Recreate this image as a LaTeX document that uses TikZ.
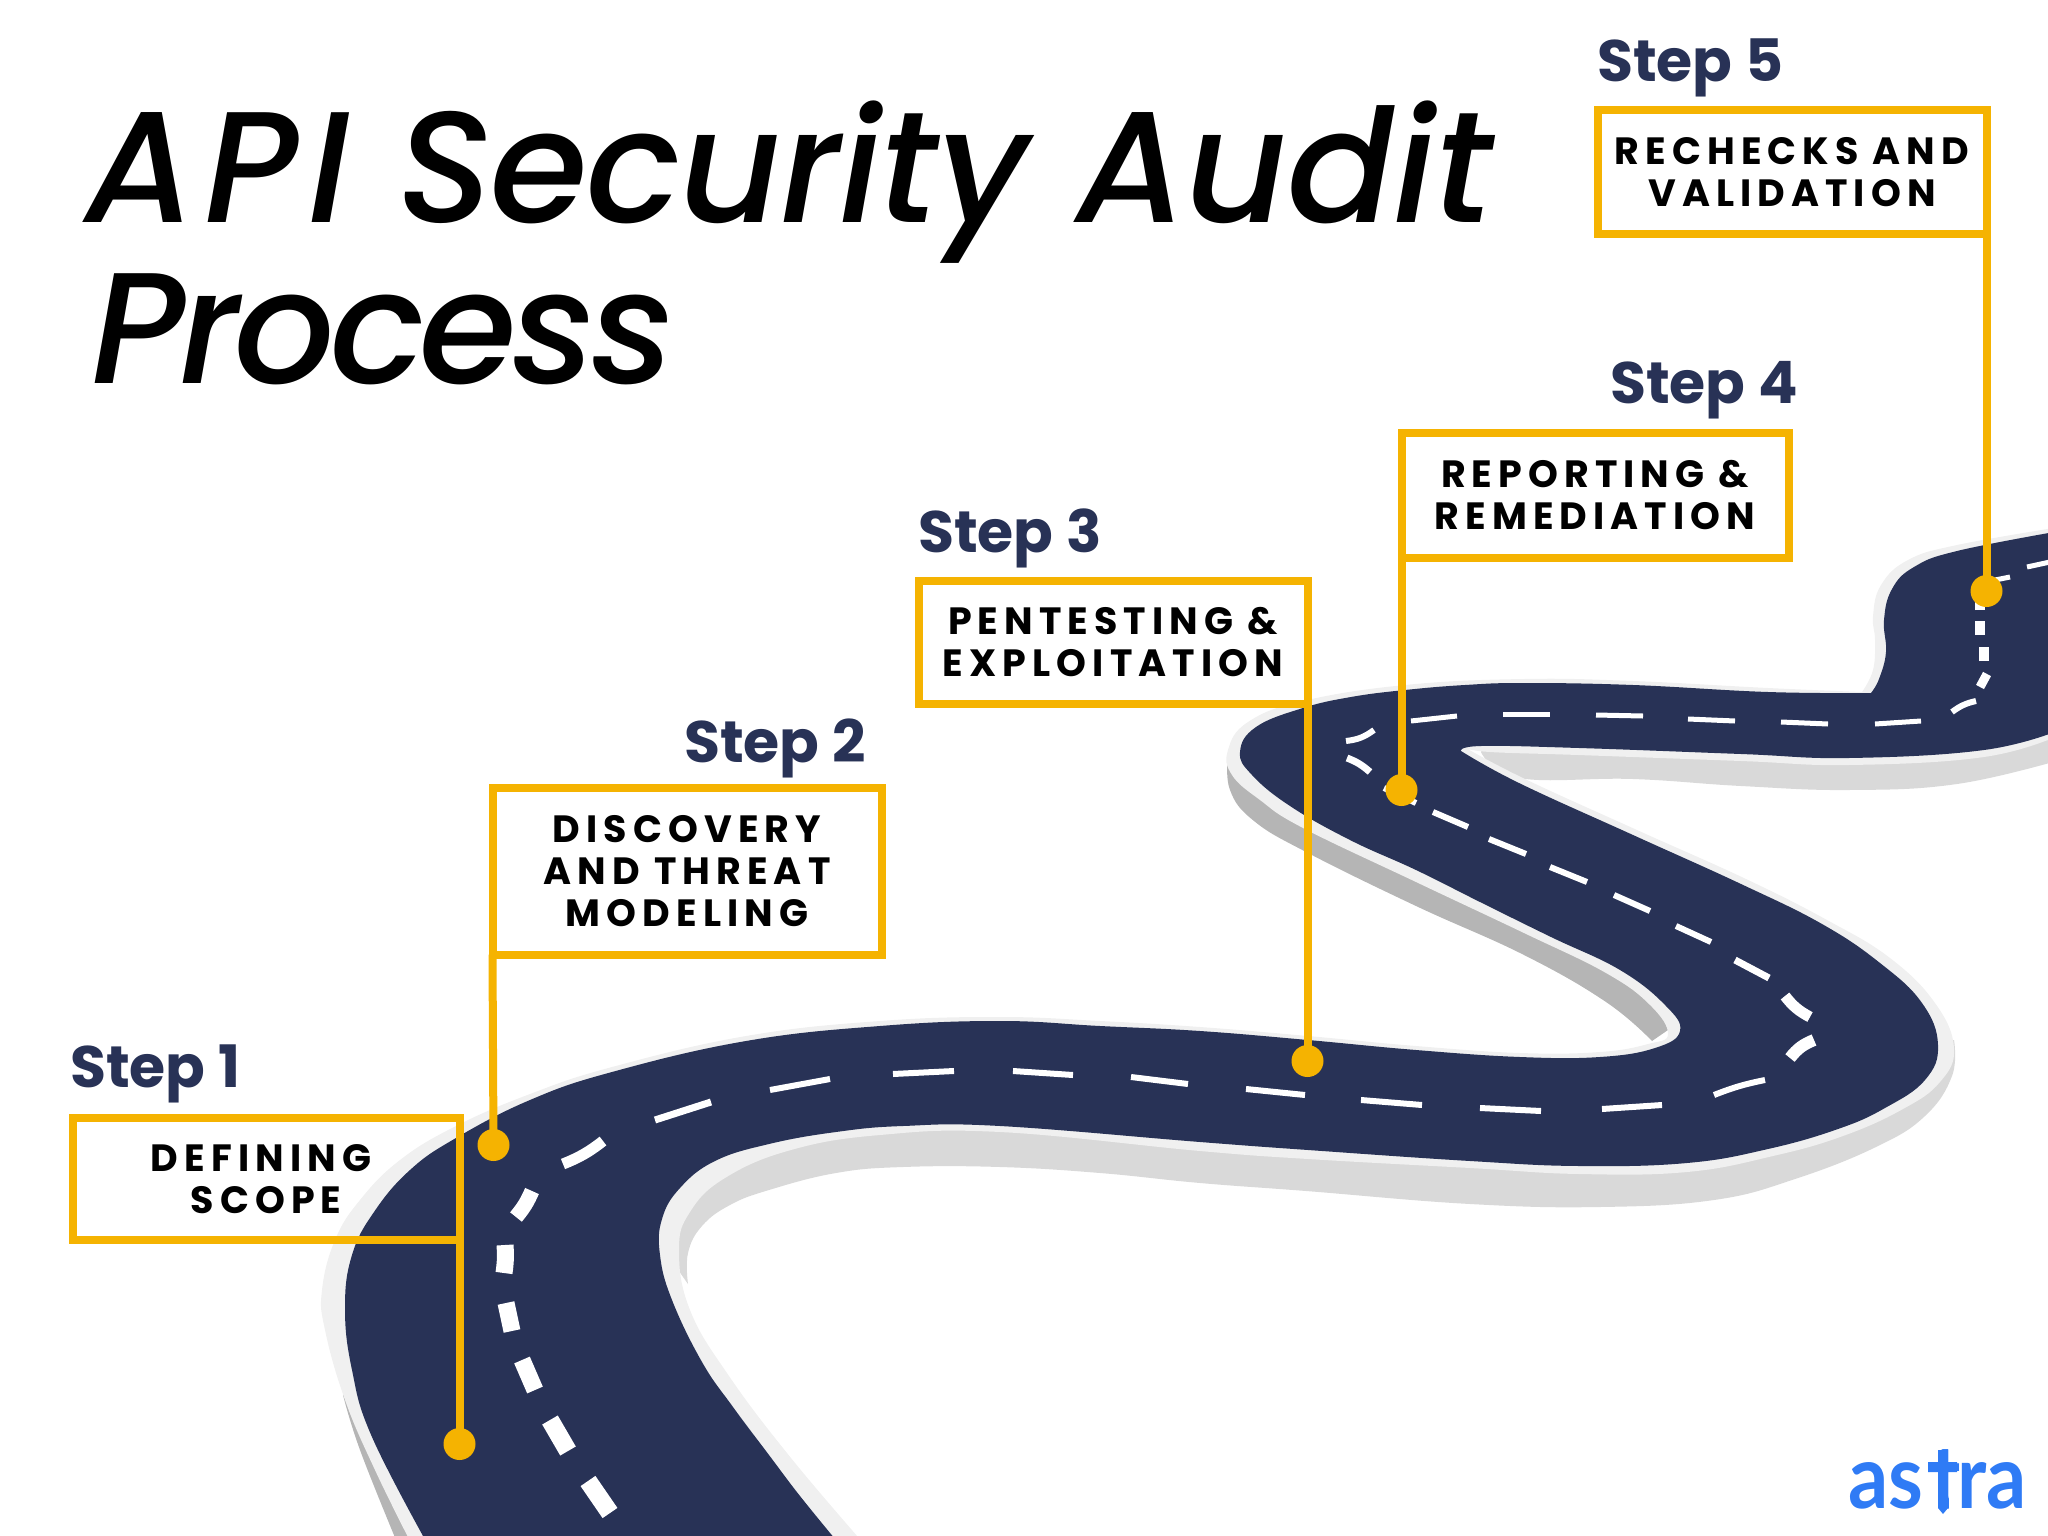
\documentclass[tikz,border=0pt]{standalone}
\usepackage{fontspec}
\setmainfont{Poppins}
\newfontfamily\titlefont[ItalicFont={Poppins Medium Italic}]{Poppins Medium}
\newfontfamily\labfont[LetterSpace=16]{Poppins}
\newfontfamily\logofont{Lato}
\definecolor{navy}{HTML}{283256}
\definecolor{flag}{HTML}{F5B301}
\definecolor{band}{HTML}{F0F0F0}
\definecolor{shadelight}{HTML}{D9D9D9}
\definecolor{shadedark}{HTML}{B5B5B5}
\definecolor{logoblue}{HTML}{2F7BF5}
\tikzset{
  sm/.style={smooth,tension=.7},
  flagbox/.style={draw=flag,line width=8pt,outer sep=0pt,inner sep=0pt,align=center,text=black,font=\labfont\bfseries\fontsize{38}{42}\selectfont},
  pole/.style={draw=flag,line width=8pt},
  stepdot/.style={circle,fill=flag,minimum size=32pt,inner sep=0pt,outer sep=0pt},
  steplab/.style={anchor=base west,text=navy,inner sep=0pt,font=\bfseries\fontsize{58.5}{60}\selectfont},
  titlelab/.style={anchor=base west,text=black,inner sep=0pt,font=\titlefont\itshape\fontsize{158}{160}\selectfont},
  lane/.style={draw=white,line cap=butt}
}
\newcommand{\lanemark}[3]{\draw[lane,line width=#1pt] #2 -- #3;}
\newcommand{\lanebend}[4]{\draw[lane,line width=#1pt] #2 to[bend left=#4] #3;}
\begin{document}
\begin{tikzpicture}[x=1pt,y=-1pt]
\useasboundingbox (0,0) rectangle (2048,1536);
\clip (0,0) rectangle (2048,1536);
% shadows
\fill[shadelight] plot[sm] coordinates {(688,1284)(688,1253)(702,1226)(730,1205)(769,1190)(836,1173)(903,1167)(1000,1167)(1100,1173)(1200,1183)(1306,1191)(1470,1204)(1600,1207)(1714,1200)(1795,1179)(1876,1147)(1925,1116)(1952,1076)(1954,1040)} -- (1700,1100) -- (1000,1100) -- (791,1120) -- (690,1160) -- (650,1230) -- cycle;
\fill[shadedark] plot[sm] coordinates {(1228,754)(1230,790)(1254,821)(1308,853)(1416,906)(1524,955)(1606,1002)(1652,1041)} -- (1668,1030) -- (1640,960) -- (1500,850) -- (1260,740) -- cycle;
\fill[shadelight] plot[sm] coordinates {(1481,752)(1519,778)(1633,779)(1741,786)(1849,790)(1957,784)(2060,760)} -- (2060,700) -- (1500,700) -- cycle;
\fill[shadedark] plot[sm] coordinates {(343,1395)(360,1450)(396,1540)} -- (430,1540) -- (380,1390) -- cycle;
% light band
\fill[band] plot[sm] coordinates {(412,1545)(375,1470)(345,1400)(325,1330)(322,1290)(335,1240)(360,1200)(400,1160)(456,1126)(530,1094)(612,1067)(746,1036)(880,1021)(1000,1017)(1100,1021)(1200,1027)(1308,1036)(1416,1046)(1520,1053)(1600,1052)(1648,1044)(1668,1034)(1650,1005)(1606,973)(1524,933)(1416,882)(1303,828)(1260,800)(1232,775)(1228,750)(1248,722)(1303,701)(1405,685)(1524,679)(1633,681)(1768,688)(1862,692)}
  -- plot[sm] coordinates {(1862,692)(1873,670)(1875,640)(1873,616)(1881,585)(1908,560)(1957,545)(2060,527)}
  -- plot[sm] coordinates {(2060,735)(1984,757)(1849,765)(1741,761)(1578,755)(1490,752)(1466,748)}
  -- plot[sm] coordinates {(1466,748)(1525,779)(1637,830)(1746,879)(1827,920)(1890,958)(1935,1003)(1954,1048)(1940,1082)(1903,1109)(1843,1136)(1773,1156)(1687,1172)(1579,1174)(1470,1168)(1308,1159)(1200,1151)(1000,1132)(880,1135)(791,1150)(725,1178)(690,1212)(679,1250)(690,1310)(729,1376)(791,1458)(865,1545)} -- cycle;
% road
\fill[navy] plot[sm] coordinates {(428,1545)(372,1437)(352,1370)(345,1308)(352,1255)(374,1212)(410,1170)(456,1138)(530,1100)(612,1072)(746,1041)(880,1026)(1000,1021)(1100,1026)(1200,1031)(1308,1040)(1416,1050)(1520,1057)(1600,1057)(1655,1048)(1680,1031)(1665,1005)(1620,970)(1551,937)(1480,902)(1416,870)(1350,840)(1290,806)(1252,775)(1240,752)(1256,727)(1303,708)(1351,697)(1405,690)(1465,685)(1524,683)(1633,685)(1768,692)(1871,693)}
  -- plot[sm] coordinates {(1871,693)(1879,679)(1886,652)(1884,620)(1892,589)(1914,567)(1957,551)(2060,531)}
  -- plot[sm] coordinates {(2060,730)(1984,750)(1849,758)(1741,754)(1579,748)(1481,746)(1461,751)}
  -- plot[sm] coordinates {(1461,751)(1519,783)(1633,835)(1741,884)(1822,924)(1880,963)(1922,1003)(1938,1045)(1925,1080)(1885,1108)(1838,1129)(1768,1149)(1687,1163)(1579,1166)(1470,1161)(1308,1150)(1200,1142)(1000,1126)(903,1126)(836,1132)(769,1144)(715,1161)(680,1188)(662,1219)(660,1255)(672,1300)(702,1362)(733,1407)(769,1455)(800,1496)(840,1545)} -- cycle;
% lane marks
\lanemark{18}{(588,1481)}{(610,1513)}
\lanemark{18}{(550,1420)}{(568,1451)}
\lanemark{17}{(522,1360)}{(535,1390)}
\lanemark{17}{(506,1303)}{(512,1331)}
\lanebend{17}{(505,1245)}{(504,1273)}{6}
\lanebend{15}{(532,1191)}{(516,1217)}{8}
\lanebend{11}{(603,1141)}{(563,1164)}{8}
\lanemark{7}{(711,1102)}{(655,1120)}
\lanemark{6}{(830,1079)}{(770,1090)}
\lanemark{6}{(954,1071)}{(893,1074)}
\lanemark{6}{(1013,1071)}{(1073,1075)}
\lanemark{6}{(1131,1077)}{(1188,1084)}
\lanemark{6}{(1246,1089)}{(1305,1095)}
\lanemark{6}{(1361,1100)}{(1422,1105)}
\lanemark{6}{(1480,1108)}{(1541,1111)}
\lanemark{6}{(1602,1109)}{(1662,1105)}
\lanebend{6}{(1714,1095)}{(1765,1080)}{5}
\lanebend{12}{(1790,1058)}{(1814,1040)}{15}
\lanebend{11}{(1810,1017)}{(1785,996)}{12}
\lanemark{7}{(1769,978)}{(1735,960)}
\lanemark{6}{(1711,942)}{(1676,926)}
\lanemark{6}{(1650,911)}{(1614,895)}
\lanemark{6}{(1587,882)}{(1550,867)}
\lanemark{6}{(1526,854)}{(1489,839)}
\lanemark{6}{(1468,827)}{(1433,812)}
\lanemark{6}{(1384,788)}{(1416,803)}
\lanebend{7}{(1370,772)}{(1347,758)}{-10}
\lanebend{6}{(1346,741)}{(1374,730)}{-15}
\lanemark{5}{(1411,721)}{(1457,716)}
\lanemark{5}{(1503,714)}{(1550,714)}
\lanemark{5}{(1596,715)}{(1643,716)}
\lanemark{5}{(1688,719)}{(1735,721)}
\lanemark{5}{(1781,722)}{(1828,724)}
\lanemark{5}{(1875,724)}{(1921,721)}
\lanebend{6}{(1952,712)}{(1976,701)}{12}
\lanemark{9}{(1980,687)}{(1987,674)}
\lanemark{10}{(1984,661)}{(1984,647)}
\lanemark{10}{(1980,635)}{(1980,621)}
\lanemark{10}{(1980,610)}{(1980,596)}
\lanemark{5}{(1995,580)}{(2010,577)}
\lanemark{5}{(2027,567)}{(2050,562)}
% title
\node[titlelab] (title1) at (85,222) {{\addfontfeature{LetterSpace=6}API} {\addfontfeature{LetterSpace=-1}Security} {\addfontfeature{LetterSpace=-.5}Audit}};
\node[titlelab] (title2) at (91,383) {{\addfontfeature{LetterSpace=-3.5}Process}};
% step labels
\node[steplab] (lab1) at (70,1087) {Step 1};
\node[steplab] (lab2) at (684,762) {Step 2};
\node[steplab] (lab3) at (918,552) {Step 3};
\node[steplab] (lab4) at (1610,403) {Step 4};
\node[steplab] (lab5) at (1597,82) {Step 5};
% boxes
\node[flagbox,minimum width=387pt,minimum height=122pt] (box1) at (266,1179) {DEFINING\hspace*{10pt}\\SCOPE};
\node[flagbox,minimum width=389pt,minimum height=167pt] (box2) at (687,871) {DISCOVERY\\AND THREAT\\MODELING};
\node[flagbox,minimum width=389pt,minimum height=123pt] (box3) at (1113,642) {PENTESTING \&\\EXPLOITATION};
\node[flagbox,minimum width=387pt,minimum height=125pt] (box4) at (1595,495) {REPORTING \&\\REMEDIATION};
\node[flagbox,minimum width=389pt,minimum height=123pt] (box5) at (1792,172) {RECHECKS AND\\VALIDATION};
% dots
\node[stepdot] (dot1) at (459.5,1444) {};
\node[stepdot] (dot2) at (493.5,1145) {};
\node[stepdot] (dot3) at (1307.5,1061) {};
\node[stepdot] (dot4) at (1401.5,790) {};
\node[stepdot] (dot5) at (1986.5,591) {};
% poles
\draw[pole] (box1.east) -- (dot1.center);
\draw[pole] (box2.south west) -- (dot2.center);
\draw[pole] (box3.east) -- (dot3.center);
\draw[pole] (box4.south west) -- (dot4.center);
\draw[pole] (box5.east) -- (dot5.center);
% logo
\node[anchor=base west,inner sep=0pt,text=logoblue,xscale=.9,font=\logofont\bfseries\fontsize{88}{88}\selectfont] (logo) at (1848,1508) {as\kern9pt t\kern-4pt ra};
\fill[white] (1948.5,1480) rectangle (1960,1512);
\fill[logoblue] (1938,1450) -- (1948,1450) -- (1948,1462) -- (1957,1462) -- (1957,1472) -- (1948,1472) -- (1948,1508) -- (1943,1514) -- (1938,1508) -- (1938,1472) -- (1928,1472) -- (1928,1462) -- (1938,1462) -- cycle;
\end{tikzpicture}
\end{document}
